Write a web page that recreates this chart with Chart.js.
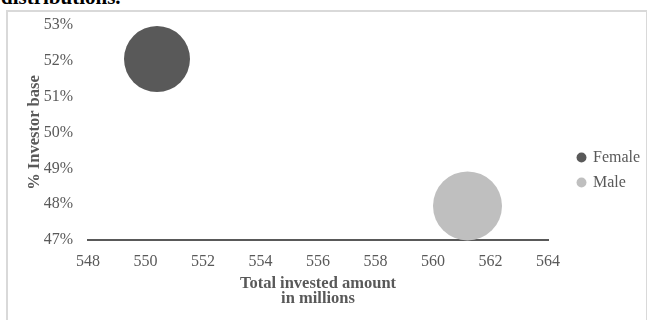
<!DOCTYPE html>
<html>
<head>
<meta charset="utf-8">
<script src="https://cdn.jsdelivr.net/npm/chart.js@4.4.1/dist/chart.umd.min.js"></script>
<style>
  html, body { margin: 0; padding: 0; background: #fff; width: 647px; height: 320px; overflow: hidden; }
  .caption { position: absolute; left: 1px; top: -13px; font: bold 21px/21px "Liberation Serif", serif; color: #000; white-space: nowrap; }
  .frame { position: absolute; left: 6px; top: 10px; width: 638px; height: 320px; border: 2px solid #d9d9d9; border-bottom: none; }
  .frame canvas { position: absolute; left: 0; top: 0; }
</style>
</head>
<body>
<div class="caption">distributions.</div>
<div class="frame"><canvas id="myChart" width="638" height="308"></canvas></div>
<script>
const seriesNames = ['Female', 'Male'];
const investedAmount = [550.4, 561.2];   // total invested, millions
const investorShare = [52.05, 47.95];    // % investor base
const bubbleSize = [33, 34.5];
const seriesColors = ['#595959', '#bfbfbf'];
const xTicks = [548, 550, 552, 554, 556, 558, 560, 562, 564];
const yTicks = [47, 48, 49, 50, 51, 52, 53];

const serif = '"Liberation Serif", "Times New Roman", serif';
const grey = '#595959';

// bubbles must not push the plot area inwards
Chart.BubbleController.prototype.getMaxOverflow = function () { return false; };

const ctx = document.getElementById('myChart').getContext('2d');

// fixed legend width, then nudge it to where the original sits
const legendPlace = {
    id: 'legendPlace',
    beforeInit(chart) {
        const origFit = chart.legend.fit;
        chart.legend.fit = function () {
            origFit.call(this);
            this.width = 98;
        };
    },
    afterLayout(chart) {
        chart.legend.left += 21;
        chart.legend.right += 21;
        chart.legend.top += 4;
        chart.legend.bottom += 4;
    }
};

const chart = new Chart(ctx, {
    type: 'bubble',
    data: {
        datasets: seriesNames.map((name, i) => ({
            label: name,
            data: [{ x: investedAmount[i], y: investorShare[i], r: bubbleSize[i] }],
            backgroundColor: seriesColors[i],
            borderColor: seriesColors[i],
            borderWidth: 0,
            hoverBorderWidth: 0,
            clip: false
        }))
    },
    options: {
        responsive: false,
        animation: false,
        layout: { padding: { top: 13, left: 17, right: 0, bottom: 13 } },
        plugins: {
            legend: {
                position: 'right',
                labels: {
                    usePointStyle: true,
                    pointStyle: 'circle',
                    boxWidth: 7,
                    boxHeight: 7,
                    padding: 9,
                    color: grey,
                    font: { family: serif, size: 16 }
                }
            },
            tooltip: { enabled: false }
        },
        scales: {
            x: {
                type: 'linear',
                min: xTicks[0],
                max: xTicks[xTicks.length - 1],
                afterBuildTicks: s => { s.ticks = xTicks.map(v => ({ value: v })); },
                afterFit: s => { s.height = 67; },
                grid: { display: false, drawTicks: false },
                border: { display: true, color: grey, width: 2 },
                ticks: {
                    color: grey,
                    padding: 12,
                    maxRotation: 0,
                    font: { family: serif, size: 16 }
                },
                title: {
                    display: true,
                    text: ['Total invested amount', 'in millions'],
                    color: grey,
                    padding: { top: 2, bottom: 0 },
                    font: { family: serif, size: 16.5, weight: 'bold', lineHeight: 0.95 }
                }
            },
            y: {
                type: 'linear',
                min: yTicks[0],
                max: yTicks[yTicks.length - 1],
                afterBuildTicks: s => { s.ticks = yTicks.map(v => ({ value: v })); },
                afterFit: s => {
                    s.width = 63;
                    s.paddingTop = 0;
                    s.paddingBottom = 0;
                },
                grid: { display: false, drawTicks: false },
                border: { display: false },
                ticks: {
                    color: grey,
                    padding: 15,
                    font: { family: serif, size: 16 },
                    callback: v => v + '%'
                },
                title: {
                    display: true,
                    text: '% Investor base',
                    color: grey,
                    padding: { top: 0, bottom: 0 },
                    font: { family: serif, size: 16.5, weight: 'bold' }
                }
            }
        }
    },
    plugins: [legendPlace]
});
</script>
</body>
</html>
